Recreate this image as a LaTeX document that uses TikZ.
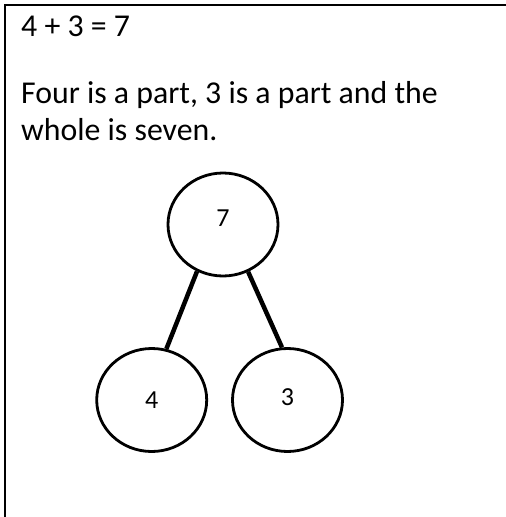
\documentclass[tikz,border=0pt]{standalone}
\usepackage{fontspec}
\setmainfont{Carlito}
\usepackage{tikz}
\usetikzlibrary{shapes.geometric}

\begin{document}
\begin{tikzpicture}[x=1pt,y=-1pt,
    part/.style={draw,ellipse,line width=2.8pt,minimum width=110pt,minimum height=103pt,inner sep=0pt,font=\fontsize{26}{30}\selectfont},
    stem/.style={line width=4.5pt},
    words/.style={anchor=base west,inner sep=0pt,font=\fontsize{31.8}{37}\selectfont}]
    \useasboundingbox (0,0) rectangle (506,517);
    % cell border, top and left only
    \draw[line width=2pt] (5,517) -- (5,5) -- (506,5);
    \node[words] (sum) at (21,36) {4 + 3 = 7};
    \node[words] (lineA) at (21,103) {Four is a part, 3 is a part and the};
    \node[words] (lineB) at (21,140) {whole is seven.};
    \node[part,text depth=12pt] (whole) at (223,224.5) {7};
    \node[part] (four) at (151.7,400) {4};
    \node[part,text depth=5pt] (three) at (287.5,400) {3};
    \draw[stem] (whole.241) -- (four.74);
    \draw[stem] (whole.298) -- (three.96);
  \end{tikzpicture}
\end{document}
